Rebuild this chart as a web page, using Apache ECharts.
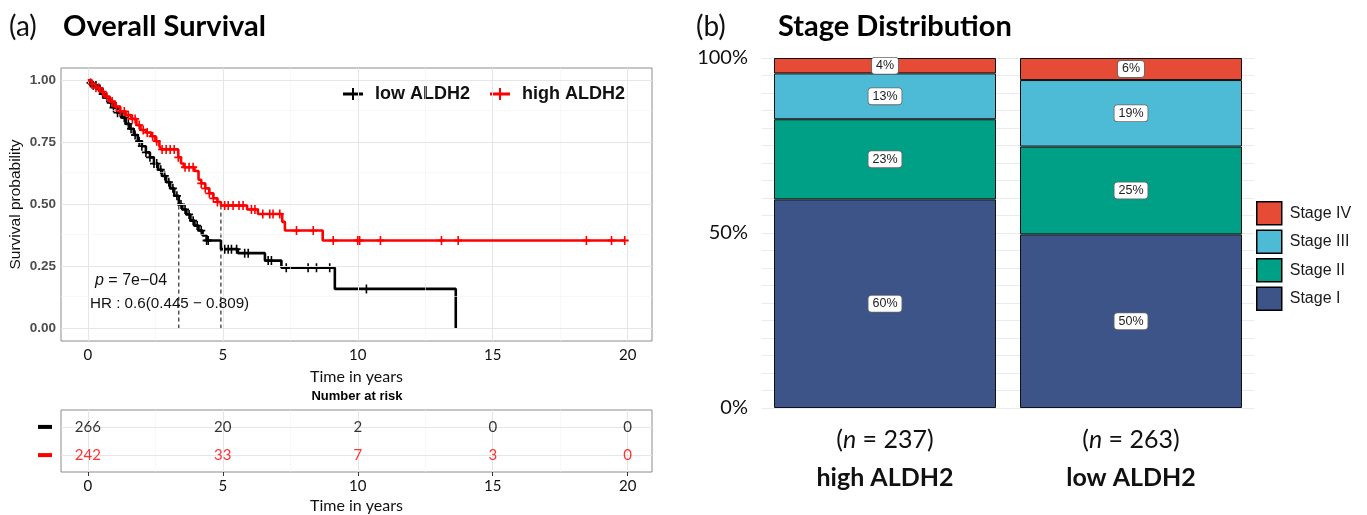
<!DOCTYPE html>
<html><head><meta charset="utf-8">
<script src="https://cdn.jsdelivr.net/npm/echarts@6/dist/echarts.min.js"></script>
<style>html,body{margin:0;padding:0;background:#fff}#c{width:1367px;height:515px}</style>
</head><body><div id="c"></div>
<script>
// ---- Kaplan-Meier data (time in years, survival probability) ----
const lowSteps = [[0,1.0],[0.1,0.99],[0.2,0.98],[0.35,0.965],[0.5,0.945],[0.65,0.93],[0.8,0.91],[0.95,0.89],[1.1,0.87],[1.25,0.85],[1.4,0.825],[1.55,0.805],[1.7,0.78],[1.85,0.755],[2.0,0.735],[2.15,0.71],[2.3,0.69],[2.45,0.665],[2.6,0.64],[2.75,0.615],[2.9,0.59],[3.05,0.565],[3.2,0.535],[3.37,0.5],[3.5,0.48],[3.65,0.46],[3.8,0.435],[3.95,0.415],[4.1,0.395],[4.25,0.375],[4.4,0.355],[4.93,0.32],[5.56,0.304],[6.56,0.274],[7.17,0.245],[9.15,0.16],[13.63,0]];
const highSteps = [[0,1.0],[0.15,0.985],[0.3,0.97],[0.45,0.955],[0.6,0.935],[0.8,0.915],[1.0,0.895],[1.2,0.875],[1.4,0.86],[1.6,0.845],[1.8,0.82],[1.95,0.8],[2.15,0.79],[2.35,0.775],[2.5,0.755],[2.65,0.735],[2.72,0.722],[3.35,0.69],[3.45,0.665],[3.55,0.65],[3.95,0.635],[4.1,0.6],[4.2,0.585],[4.35,0.565],[4.5,0.545],[4.65,0.525],[4.8,0.51],[4.93,0.496],[5.9,0.48],[6.3,0.462],[7.2,0.43],[7.3,0.395],[8.7,0.355],[19.9,0.355]];
const lowCensor = [0.1,0.2,0.3,0.45,0.55,0.7,0.85,0.95,1.1,1.2,1.35,1.5,1.6,1.75,1.9,2.0,2.15,2.3,2.45,2.55,2.7,2.85,3.0,3.15,3.3,3.45,3.6,3.75,3.9,4.05,4.2,4.4,4.46,5.07,5.2,5.32,5.51,5.81,5.94,6.68,6.8,7.35,8.16,8.47,8.96,10.32];
const highCensor = [0.15,0.3,0.4,0.55,0.7,0.9,1.05,1.2,1.35,1.5,1.65,1.75,1.9,2.05,2.2,2.4,2.55,2.75,2.9,3.05,3.2,3.35,3.6,3.75,3.9,4.2,4.35,4.5,4.65,4.8,5.07,5.2,5.38,5.6,5.75,6.06,6.19,6.48,6.74,6.86,7.11,7.73,8.35,9.09,10.0,10.07,10.84,13.1,13.72,18.47,19.4,19.89];
const medianLow = 3.37;
const medianHigh = 4.93;
const kmTicksX = [0,5,10,15,20];
const kmMinorX = [2.5,7.5,12.5,17.5];
const kmTicksY = [0,0.25,0.5,0.75,1];
const kmMinorY = [0.125,0.375,0.625,0.875];
// ---- Number at risk ----
const riskTimes = [0,5,10,15,20];
const riskLow = [266,20,2,0,0];
const riskHigh = [242,33,7,3,0];
// ---- Stage distribution (percent) ----
const groups = ['high ALDH2','low ALDH2'];
const groupN = [237,263];
const stageI = [59.6,49.6];
const stageII = [22.9,25.1];
const stageIII = [13.1,19.0];
const stageIV = [4.4,6.3];

function survAt(steps, t){ let s = steps[0][1]; for (const p of steps){ if (p[0] <= t) s = p[1]; else break; } return s; }
const cross = 'path://M4,0H6V4H10V6H6V10H4V6H0V4H4Z';
const legendCross = 'path://M0,4.5H9V0H11V4.5H20V7.5H11V12H9V7.5H0Z';
const calib = 'Lato';
const helv = 'Liberation Sans';

function gridLines(major, minor, axis){
  const d = [];
  major.forEach(v => d.push({[axis]: v, lineStyle:{color:'#e6e6e6', width:1, type:'solid'}}));
  minor.forEach(v => d.push({[axis]: v, lineStyle:{color:'#f3f3f3', width:0.6, type:'solid'}}));
  return d;
}

const chart = echarts.init(document.getElementById('c'), null, {renderer:'canvas'});
const option = {
  animation:false,
  backgroundColor:'#fff',
  grid:[
    {left:61, top:68, width:591, height:273, show:true, borderColor:'#8c8c8c', borderWidth:1, backgroundColor:'#fff'},
    {left:61, top:410, width:591, height:64, show:true, borderColor:'#8c8c8c', borderWidth:1, backgroundColor:'#fff'},
    {left:762, top:58, width:492, height:350, show:false}
  ],
  xAxis:[
    {gridIndex:0, type:'value', min:-0.995, max:20.9, axisLine:{show:false}, splitLine:{show:false},
     axisTick:{show:true, customValues:kmTicksX, length:4, lineStyle:{color:'#333'}},
     axisLabel:{customValues:kmTicksX, fontFamily:calib, fontSize:15, color:'#111', margin:7},
     name:'Time in years', nameLocation:'middle', nameGap:28, nameTextStyle:{fontFamily:calib, fontSize:16, color:'#111'}},
    {gridIndex:1, type:'value', min:-0.995, max:20.9, axisLine:{show:false}, splitLine:{show:false},
     axisTick:{show:true, customValues:kmTicksX, length:4, lineStyle:{color:'#333'}},
     axisLabel:{customValues:kmTicksX, fontFamily:calib, fontSize:15, color:'#111', margin:7},
     name:'Time in years', nameLocation:'middle', nameGap:26, nameTextStyle:{fontFamily:calib, fontSize:16, color:'#111'}},
    {gridIndex:2, type:'category', data:groups, axisLine:{show:false}, axisTick:{show:false}, splitLine:{show:false},
     axisLabel:{margin:13, interval:0, formatter:(v,i)=> '{r|(}{i|n}{r| = ' + groupN[i] + ')}\n{b|' + v + '}',
       rich:{r:{fontFamily:calib, fontSize:25, color:'#111', lineHeight:38},
             i:{fontFamily:calib, fontSize:25, fontStyle:'italic', color:'#111', lineHeight:38},
             b:{fontFamily:calib, fontSize:25, fontWeight:'bold', color:'#111', lineHeight:38}}}}
  ],
  yAxis:[
    {gridIndex:0, type:'value', min:-0.05, max:1.05, axisLine:{show:false}, splitLine:{show:false},
     axisTick:{show:true, customValues:kmTicksY, length:4, lineStyle:{color:'#333'}},
     axisLabel:{customValues:kmTicksY, formatter:v=>v.toFixed(2), fontFamily:helv, fontSize:13.5, fontWeight:'bold', color:'#4d4d4d', margin:5},
     name:'Survival probability', nameLocation:'middle', nameGap:37, nameTextStyle:{fontFamily:helv, fontSize:15.5, color:'#111'}},
    {gridIndex:1, type:'value', min:0.4, max:2.6, axisLine:{show:false}, splitLine:{show:false}, axisTick:{show:false},
     axisLabel:{customValues:[1,2], margin:9, formatter:v=> v===2 ? '{k| }' : '{r| }',
       rich:{k:{width:14, height:4, backgroundColor:'#000'}, r:{width:14, height:4, backgroundColor:'#ff0000'}}}},
    {gridIndex:2, type:'value', min:0, max:100, interval:5, axisLine:{show:false}, axisTick:{show:false},
     splitLine:{show:true, lineStyle:{color:'#ebebeb', width:1}},
     axisLabel:{formatter:v=> (v%50===0) ? v+'%' : '', fontFamily:calib, fontSize:20, color:'#111', margin:14}}
  ],
  legend:[
    {data:['low ALDH2','high ALDH2'], left:343, top:85, padding:0, itemWidth:22, itemHeight:12, itemGap:20, icon:legendCross,
     selectedMode:false, textStyle:{fontFamily:helv, fontSize:18, fontWeight:'bold', color:'#111', padding:[0,0,0,6]}},
    {data:['Stage IV','Stage III','Stage II','Stage I'], orient:'vertical', left:1256, top:201, padding:0, itemWidth:25, itemHeight:23,
     itemGap:4, icon:'rect', selectedMode:false, itemStyle:{borderColor:'#000', borderWidth:1.5},
     textStyle:{fontFamily:helv, fontSize:16, color:'#1a1a1a', padding:[0,0,0,3]}}
  ],
  graphic:[
    {type:'text', x:9, y:27, style:{text:'(a)', fontFamily:calib, fontSize:28, fill:'#111', verticalAlign:'middle'}},
    {type:'text', x:63, y:27, style:{text:'Overall Survival', fontFamily:calib, fontSize:29, fontWeight:'bold', fill:'#000', verticalAlign:'middle'}},
    {type:'text', x:696, y:27, style:{text:'(b)', fontFamily:calib, fontSize:28, fill:'#111', verticalAlign:'middle'}},
    {type:'text', x:778, y:27, style:{text:'Stage Distribution', fontFamily:calib, fontSize:29, fontWeight:'bold', fill:'#000', verticalAlign:'middle'}},
    {type:'text', x:357, y:396, style:{text:'Number at risk', fontFamily:helv, fontSize:13, fontWeight:'bold', fill:'#000', align:'center', verticalAlign:'middle'}},
    {type:'text', x:95, y:281, z:50, style:{text:'{i|p} = 7e\u221204', fontFamily:helv, fontSize:16, fill:'#111', verticalAlign:'middle',
       rich:{i:{fontFamily:helv, fontSize:16, fontStyle:'italic', fill:'#111'}}}},
    {type:'text', x:90, y:304, z:50, style:{text:'HR : 0.6(0.445 \u2212 0.809)', fontFamily:helv, fontSize:15.2, fill:'#111', verticalAlign:'middle'}}
  ],
  series:[
    {type:'line', name:'km grid', xAxisIndex:0, yAxisIndex:0, data:[], z:1, silent:true,
     markLine:{silent:true, symbol:['none','none'], label:{show:false}, animation:false,
       data: gridLines(kmTicksX, kmMinorX, 'xAxis').concat(gridLines(kmTicksY, kmMinorY, 'yAxis'))}},
    {type:'line', name:'risk grid', xAxisIndex:1, yAxisIndex:1, data:[], z:1, silent:true,
     markLine:{silent:true, symbol:['none','none'], label:{show:false}, animation:false,
       data: gridLines(kmTicksX, kmMinorX, 'xAxis').concat(gridLines([1,2], [], 'yAxis'))}},
    {type:'line', name:'median h', xAxisIndex:0, yAxisIndex:0, data:[[0,0.5],[medianHigh,0.5]], showSymbol:false, symbol:'none', z:3,
     lineStyle:{color:'#000', width:1, type:[4,3]}},
    {type:'line', name:'median low v', xAxisIndex:0, yAxisIndex:0, data:[[medianLow,0],[medianLow,0.5]], showSymbol:false, symbol:'none', z:3,
     lineStyle:{color:'#000', width:1, type:[4,3]}},
    {type:'line', name:'median high v', xAxisIndex:0, yAxisIndex:0, data:[[medianHigh,0],[medianHigh,0.5]], showSymbol:false, symbol:'none', z:3,
     lineStyle:{color:'#000', width:1, type:[4,3]}},
    {type:'line', name:'low ALDH2', xAxisIndex:0, yAxisIndex:0, data:lowSteps, step:'end', showSymbol:false, symbol:'none', z:4,
     lineStyle:{color:'#000', width:2.6}, itemStyle:{color:'#000'}},
    {type:'line', name:'high ALDH2', xAxisIndex:0, yAxisIndex:0, data:highSteps, step:'end', showSymbol:false, symbol:'none', z:5,
     lineStyle:{color:'#ff0000', width:2.6}, itemStyle:{color:'#ff0000'}},
    {type:'scatter', name:'low censor', xAxisIndex:0, yAxisIndex:0, symbol:cross, symbolSize:[8,9], z:4,
     itemStyle:{color:'#000', opacity:1}, data: lowCensor.map(t=>[t, survAt(lowSteps,t)])},
    {type:'scatter', name:'high censor', xAxisIndex:0, yAxisIndex:0, symbol:cross, symbolSize:[8,9], z:5,
     itemStyle:{color:'#ff0000', opacity:1}, data: highCensor.map(t=>[t, survAt(highSteps,t)])},
    {type:'scatter', name:'risk low', xAxisIndex:1, yAxisIndex:1, symbolSize:1, itemStyle:{color:'rgba(0,0,0,0)'}, z:6,
     label:{show:true, position:'inside', formatter:p=>String(p.value[2]), fontFamily:calib, fontSize:15, color:'#000'},
     data: riskTimes.map((t,i)=>[t,2,riskLow[i]])},
    {type:'scatter', name:'risk high', xAxisIndex:1, yAxisIndex:1, symbolSize:1, itemStyle:{color:'rgba(0,0,0,0)'}, z:6,
     label:{show:true, position:'inside', formatter:p=>String(p.value[2]), fontFamily:calib, fontSize:15, color:'#ff0000'},
     data: riskTimes.map((t,i)=>[t,1,riskHigh[i]])}
  ].concat([['Stage I',stageI,'#3C5488'],['Stage II',stageII,'#00A087'],['Stage III',stageIII,'#4DBBD5'],['Stage IV',stageIV,'#E64B35']].map(([n,d,c])=>({
    type:'bar', name:n, xAxisIndex:2, yAxisIndex:2, stack:'stage', data:d, barWidth:222,
    itemStyle:{color:c, borderColor:'#111', borderWidth:1},
    label:{show:true, position:'inside', formatter:p=>Math.round(p.value)+'%', fontFamily:helv, fontSize:12.5, color:'#222',
      backgroundColor:'#fff', borderColor:'#666', borderWidth:0.8, borderRadius:3, padding:[2,4,1,4]}
  })))
};
chart.setOption(option);
</script></body></html>
